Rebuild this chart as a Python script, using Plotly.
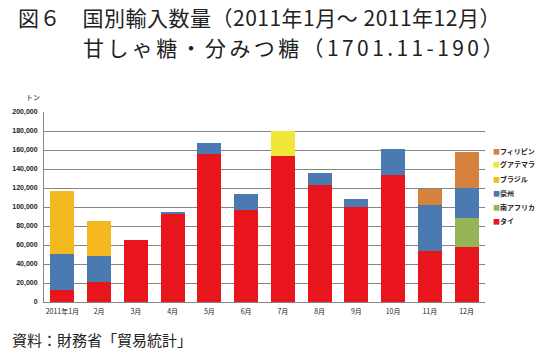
import plotly.graph_objects as go

months = ["2011年1月", "2月", "3月", "4月", "5月", "6月", "7月", "8月", "9月", "10月", "11月", "12月"]

# tonnes, stacked bottom -> top
thai = [12300, 20700, 65600, 93000, 156100, 97200, 154000, 123500, 100400, 134000, 54000, 58200]
south_africa = [0, 0, 0, 0, 0, 0, 0, 0, 0, 0, 0, 30600]
australia = [37900, 27400, 0, 1000, 11600, 16800, 0, 12600, 8400, 27100, 48500, 31600]
brazil = [66300, 36800, 0, 0, 0, 0, 0, 0, 0, 0, 0, 0]
guatemala = [0, 0, 0, 0, 0, 0, 26400, 0, 0, 0, 0, 0]
philippines = [0, 0, 0, 0, 0, 0, 0, 0, 0, 0, 16800, 37800]

series = [
    ("タイ", thai, "#E8161C"),
    ("南アフリカ", south_africa, "#96B457"),
    ("豪州", australia, "#4A7AB0"),
    ("ブラジル", brazil, "#F4B920"),
    ("グアテマラ", guatemala, "#F0E838"),
    ("フィリピン", philippines, "#D4823E"),
]

yticks = list(range(0, 200001, 20000))
yticktext = ["<b>" + f"{v:,}" + "</b>" for v in yticks]

fig = go.Figure()
for name, vals, col in series:
    fig.add_trace(go.Bar(x=months, y=vals, name=name, marker=dict(color=col, line=dict(width=0))))

fig.update_layout(
    barmode="stack",
    bargap=0.35,
    width=540, height=353,
    margin=dict(l=40, r=55, t=112, b=51),
    paper_bgcolor="white", plot_bgcolor="white",
    showlegend=False,
    font=dict(family="Noto Sans CJK JP", color="#111"),
)
fig.update_yaxes(
    range=[0, 200000], tickvals=yticks, ticktext=yticktext,
    showgrid=True, gridcolor="#858585", gridwidth=1,
    showline=True, linecolor="#858585", linewidth=1,
    tickfont=dict(size=7, family="Liberation Sans", color="#222"),
    ticks="", ticklabelstandoff=4, zeroline=False,
)
fig.update_xaxes(
    showline=True, linecolor="#858585", linewidth=1,
    tickfont=dict(size=7, family="Noto Sans CJK JP", color="#222"),
    ticks="", ticklabelstandoff=3,
)

ann = []
ann.append(dict(text='<span style="letter-spacing:0.5px">図６　国別輸入数量（2011年1月～ 2011年12月）</span>',
                x=12, y=16.5, xanchor="left", yanchor="middle", showarrow=False,
                font=dict(size=21, family="Noto Sans CJK JP", color="#222")))
ann.append(dict(text='<span style="letter-spacing:3.4px">甘しゃ糖・分みつ糖（1701.11-190）</span>',
                x=77, y=47.5, xanchor="left", yanchor="middle", showarrow=False,
                font=dict(size=21, family="Noto Sans CJK JP", color="#222")))
ann.append(dict(text="資料：財務省「貿易統計」", x=6, y=339, showarrow=False,
                xanchor="left", yanchor="middle", font=dict(size=15, family="Noto Sans CJK JP", color="#222")))
ann.append(dict(text="トン", x=38, y=97, showarrow=False,
                xanchor="right", yanchor="middle", font=dict(size=7, family="Noto Sans CJK JP", color="#222")))

# legend (top -> bottom reversed from stacking order)
leg_y = [221, 207, 193, 179, 164, 151]
for (name, vals, col), ly in zip(series, leg_y):
    ann.append(dict(text=f'<span style="color:{col}">■</span><b>{name}</b>', x=491, y=ly, showarrow=False,
                    xanchor="left", yanchor="middle",
                    font=dict(size=7, family="Noto Sans CJK JP", color="#222")))

# convert pixel positions to paper coords
W, H = 540, 353
l, r, t, b = 40, 55, 112, 51
pw, ph = W - l - r, H - t - b
for a in ann:
    px, py = a["x"], a["y"]
    a["x"] = (px - l) / pw
    a["y"] = 1 - (py - t) / ph
    a["xref"] = "paper"
    a["yref"] = "paper"
fig.update_layout(annotations=ann)

fig.write_html("out.html")
